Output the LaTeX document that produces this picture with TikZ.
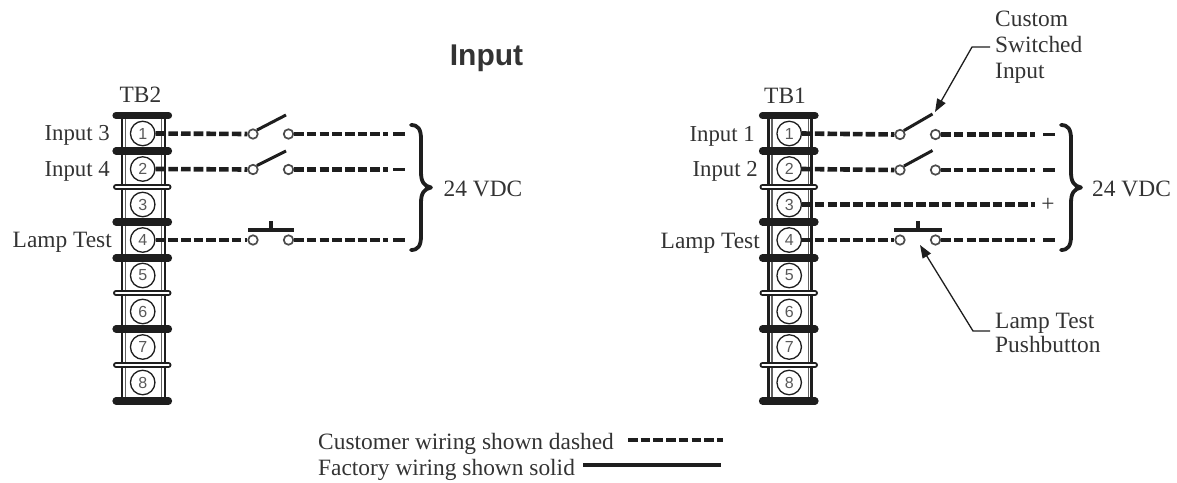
\documentclass[tikz,border=0pt]{standalone}
\usepackage{fontspec}
\setmainfont{Liberation Serif}
\setsansfont{Liberation Sans}
\usetikzlibrary{arrows.meta}
\definecolor{ink}{HTML}{1E1E1E}
\definecolor{txt}{HTML}{333333}
\tikzset{
  x=1pt,y=-1pt,
  lbl/.style={font=\fontsize{23.4}{26}\selectfont,text=txt,inner sep=0pt},
  lblL/.style={lbl,anchor=base west,align=left},
  lblR/.style={lbl,anchor=base east},
  lblI/.style={lblR,font=\fontsize{22.8}{26}\selectfont},
  lblC/.style={lbl,anchor=base},
  term/.style={circle,draw=ink,line width=1.3pt,minimum size=24.5pt,inner sep=0pt,fill=white,
    font=\sffamily\fontsize{16}{17}\selectfont,text=black!65},
  pin/.style={circle,draw=ink!80,line width=1.7pt,minimum size=9.5pt,inner sep=0pt,fill=white},
  wire/.style={draw=ink,line width=4.6pt,dash pattern=on 9.6pt off 3.1pt},
  wireend/.style={draw=ink,line width=3.8pt},
  solidw/.style={draw=ink,line width=4.4pt},
  blade/.style={draw=ink,line width=3pt},
  pbar/.style={draw=ink,line width=4pt},
  railo/.style={draw=ink,line width=2.6pt},
  raili/.style={draw=ink!70,line width=1.2pt},
  barf/.style={draw=ink,line width=7.2pt,line cap=round},
  barh/.style={draw=ink,line width=6pt,line cap=round},
  barw/.style={draw=white,line width=2.2pt,line cap=round},
  bracel/.style={draw=ink,line width=3.8pt,line cap=round,line join=round},
  leader/.style={draw=ink,line width=1.3pt},
  leadera/.style={leader,-{Triangle[length=13pt,width=9.5pt]}},
}
% terminal strip: prefix, x shift
\newcommand{\tstrip}[2]{%
  \begin{scope}[shift={(#2,0)}]
    \draw[railo] (122,115) -- (122,401);
    \draw[raili] (125.5,115) -- (125.5,401);
    \draw[raili] (161.7,115) -- (161.7,401);
    \draw[railo] (165,115) -- (165,401);
    \foreach \yy in {115.5,151,222,258,329,401} \draw[barf] (116,\yy) -- (168.5,\yy);
    \foreach \yy in {187,293,365} {\draw[barh] (116,\yy) -- (168.5,\yy); \draw[barw] (116,\yy) -- (168.5,\yy);}
    \foreach \n/\yy in {1/133.5,2/169,3/204.5,4/240,5/275.5,6/311.5,7/347,8/382.5}
      \node[term] (#1c\n) at (142.7,\yy) {\n};
  \end{scope}}
% brace
\newcommand{\vbrace}[1]{%
  \begin{scope}[shift={(#1,0)}]
    \draw[bracel] (411,125) .. controls (418,125) and (421,129) .. (421,139) -- (421,172)
      .. controls (421,182) and (424,186) .. (431,187.5)
      .. controls (424,189) and (421,193) .. (421,203) -- (421,236)
      .. controls (421,246) and (418,250) .. (411,250);
  \end{scope}}
\begin{document}
\begin{tikzpicture}
\useasboundingbox (0,0) rectangle (1177,482);
\node[font=\sffamily\bfseries\fontsize{30}{32}\selectfont,text=txt,inner sep=0pt,anchor=base] (title) at (486.5,65) {Input};

% ---------- left block
\tstrip{a}{0}
\node[lblC] (tb2) at (140.5,102.3) {TB2};
\node[lblI] (la1) at (110,140.7) {Input 3};
\node[lblI] (la2) at (110,176.7) {Input 4};
\node[lblR] (la4) at (112,247) {Lamp Test};
\foreach \r/\yy in {1/134,2/169.5,4/240}{
  \node[pin] (aL\r) at (253,\yy) {};
  \node[pin] (aR\r) at (288.5,\yy) {};
  \coordinate (aE\r) at (388,\yy);
  \coordinate (aF\r) at (393,\yy);
  \coordinate (aG\r) at (405,\yy);
}
\foreach \r in {1,2,4}{
  \draw[wire] (ac\r.east) -- (aL\r.west);
  \draw[wire] (aR\r.east) -- (aE\r);
  \draw[wireend] (aF\r) -- (aG\r);
}
\coordinate (aB1) at (286,115);
\coordinate (aB2) at (286,151);
\draw[blade] (aL1.north east) -- (aB1);
\draw[blade] (aL2.north east) -- (aB2);
\coordinate (aP1) at (248,229.5); \coordinate (aP2) at (294,229.5);
\coordinate (aS1) at (271,221); \coordinate (aS2) at (271,229.5);
\draw[pbar] (aP1) -- (aP2);
\draw[pbar] (aS1) -- (aS2);
\vbrace{0}
\node[lblL] (v24a) at (443.5,196) {24 VDC};

% ---------- right block
\tstrip{b}{646.5}
\node[lblC] (tb1) at (785,103.3) {TB1};
\node[lblI] (lb1) at (755,141.5) {Input 1};
\node[lblI] (lb2) at (758,176.5) {Input 2};
\node[lblR] (lb4) at (760,248) {Lamp Test};
\foreach \r/\yy in {1/134.5,2/170,4/240}{
  \node[pin] (bL\r) at (900,\yy) {};
  \node[pin] (bR\r) at (935.5,\yy) {};
  \coordinate (bE\r) at (1035,\yy);
  \coordinate (bF\r) at (1043,\yy);
  \coordinate (bG\r) at (1055,\yy);
}
\foreach \r in {1,2,4}{
  \draw[wire] (bc\r.east) -- (bL\r.west);
  \draw[wire] (bR\r.east) -- (bE\r);
  \draw[wireend] (bF\r) -- (bG\r);
}
\node[lblC] (plus) at (1048,211.5) {+};
\draw[wire,shorten >=6pt] (bc3.east) -- (plus.west |- bc3.east);
\coordinate (bB1) at (932.5,114);
\coordinate (bB2) at (932.5,150.5);
\draw[blade] (bL1.north east) -- (bB1);
\draw[blade] (bL2.north east) -- (bB2);
\coordinate (bP1) at (894,229.5); \coordinate (bP2) at (942,229.5);
\coordinate (bS1) at (918,221); \coordinate (bS2) at (918,229.5);
\draw[pbar] (bP1) -- (bP2);
\draw[pbar] (bS1) -- (bS2);
\vbrace{650}
\node[lblL] (v24b) at (1092,196.5) {24 VDC};

% ---------- callouts
\node[lblL] (csi1) at (995,26.7) {Custom};
\node[lblL] (csi2) at (995,52) {Switched};
\node[lblL] (csi3) at (995,78) {Input};
\coordinate (csiA) at (990,47);
\coordinate (csiK) at (972,47);
\coordinate (csiT) at (935,112);
\draw[leadera] (csiA) -- (csiK) -- (csiT);
\node[lblL] (ltp1) at (995,328) {Lamp Test};
\node[lblL] (ltp2) at (995,352) {Pushbutton};
\coordinate (ltpA) at (990,331);
\coordinate (ltpK) at (973,331);
\coordinate (ltpT) at (920,245);
\draw[leadera] (ltpA) -- (ltpK) -- (ltpT);

% ---------- legend
\node[lblL] (leg1) at (318,449.3) {Customer wiring shown dashed};
\node[lblL] (leg2) at (318,475) {Factory wiring shown solid};
\coordinate (d1) at (628,440); \coordinate (d2) at (723,440);
\coordinate (s1) at (583,465); \coordinate (s2) at (721,465);
\draw[wire] (d1) -- (d2);
\draw[solidw] (s1) -- (s2);
\end{tikzpicture}
\end{document}
